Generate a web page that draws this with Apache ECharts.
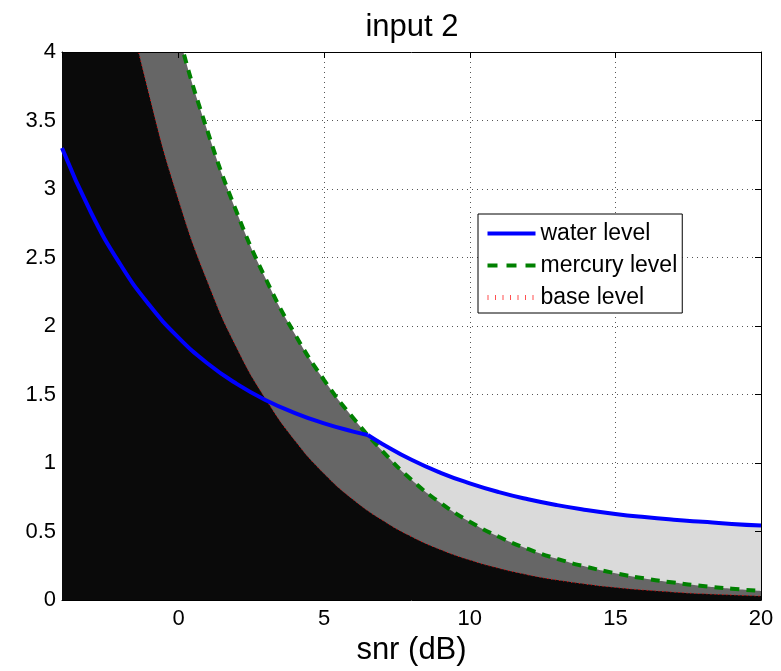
<!DOCTYPE html>
<html><head><meta charset="utf-8">
<script src="https://cdn.jsdelivr.net/npm/echarts@6/dist/echarts.min.js"></script>
<style>html,body{margin:0;padding:0;background:#fff}#c{width:781px;height:671px}</style>
</head><body><div id="c"></div>
<script>
// x values (snr in dB) shared by base and mercury levels
const snr = [-4,-3,-2,-1,0,1,2,3,4,5,6,7,8,9,10,11,12,13,14,15,16,17,18,19,20];
const baseLevel = [7.33,5.83,4.63,3.68,2.92,2.32,1.84,1.465,1.163,0.923,0.733,0.583,0.463,0.368,0.292,0.232,0.184,0.146,0.116,0.092,0.073,0.058,0.046,0.037,0.029];
const mercuryLevel = [8.8,7.28,6.03,4.99,4.13,3.42,2.83,2.343,1.94,1.606,1.329,1.088,0.878,0.709,0.572,0.462,0.373,0.301,0.243,0.196,0.158,0.128,0.103,0.083,0.067];
// water level, split at the kink where it meets mercury level
const snrWaterA = [-4,-3,-2,-1,0,1,2,3,4,5,6,6.5];
const waterA = [3.30,2.827,2.451,2.153,1.916,1.727,1.578,1.459,1.365,1.290,1.230,1.205];
const snrWaterB = [6.5,7,8,9,10,11,12,13,14,15,16,17,18,19,20];
const waterB = [1.205,1.140,1.024,0.929,0.852,0.788,0.736,0.693,0.658,0.629,0.606,0.587,0.571,0.556,0.544];
const legendNames = ['water level','mercury level','base level'];
const titleText = 'input 2';
const xName = 'snr (dB)';

const FONT = '"Liberation Sans", Arial, Helvetica, sans-serif';
const pairs = (xs, ys) => xs.map((x, i) => [x, ys[i]]);
const chart = echarts.init(document.getElementById('c'), null, {renderer: 'canvas'});

const gridLine = {show: true, lineStyle: {color: '#555', width: 1, type: [1, 4]}};
const SM = {smooth: 0.5};
const fill = (name, xs, ys, color, z) => Object.assign({
  name, type: 'line', data: pairs(xs, ys), symbol: 'none', silent: true,
  lineStyle: {width: 0}, areaStyle: {color, opacity: 1, origin: 'start'}, z
}, SM);
const line = (name, xs, ys, lineStyle, z) => Object.assign({
  name, type: 'line', data: pairs(xs, ys), symbol: 'none', showSymbol: false,
  lineStyle, itemStyle: {color: lineStyle.color}, z
}, SM);

chart.setOption({
  animation: false,
  backgroundColor: '#fff',
  title: {text: titleText, left: 407, textAlign: 'center', top: 7,
    textStyle: {fontFamily: FONT, fontSize: 31, fontWeight: 'normal', color: '#000'}},
  grid: {left: 62, right: 20, top: 52, bottom: 67, containLabel: false},
  legend: {
    orient: 'vertical', left: 478, top: 214,
    data: [
      {name: legendNames[0]},
      {name: legendNames[1], lineStyle: {type: [10, 9]}},
      {name: legendNames[2], lineStyle: {color: '#ff5050', width: 5, type: [1, 6.5]}}
    ],
    padding: [8, 5, 4, 7], itemGap: 9, itemWidth: 48, itemHeight: 21,
    backgroundColor: '#fff', borderColor: '#000', borderWidth: 1, borderRadius: 0, z: 10,
    itemStyle: {opacity: 0},
    lineStyle: {width: 'inherit', type: 'inherit'},
    textStyle: {fontFamily: FONT, fontSize: 23, color: '#000'}
  },
  xAxis: [{
    type: 'value', min: -4, max: 20, splitNumber: 5, position: 'bottom',
    name: xName, nameLocation: 'middle', nameGap: 33,
    nameTextStyle: {fontFamily: FONT, fontSize: 31, color: '#000'},
    axisLine: {show: true, onZero: false, lineStyle: {color: '#000', width: 1}},
    axisTick: {show: true, inside: true, length: 6, lineStyle: {color: '#000'}},
    axisLabel: {fontFamily: FONT, fontSize: 22, color: '#000', margin: 8, showMinLabel: false,
      formatter: v => (v === -4 ? '' : String(v))},
    splitLine: gridLine, z: 0
  }, {
    type: 'value', min: -4, max: 20, splitNumber: 5, position: 'top',
    axisLine: {show: true, onZero: false, lineStyle: {color: '#000', width: 1}},
    axisTick: {show: true, inside: true, length: 6, lineStyle: {color: '#000'}},
    axisLabel: {show: false}, splitLine: {show: false}, z: 10
  }],
  yAxis: [{
    type: 'value', min: 0, max: 4, interval: 0.5, position: 'left',
    axisLine: {show: true, onZero: false, lineStyle: {color: '#000', width: 1}},
    axisTick: {show: true, inside: true, length: 6, lineStyle: {color: '#000'}},
    axisLabel: {fontFamily: FONT, fontSize: 22, color: '#000', margin: 6},
    splitLine: gridLine, z: 0
  }, {
    type: 'value', min: 0, max: 4, interval: 0.5, position: 'right',
    axisLine: {show: true, onZero: false, lineStyle: {color: '#000', width: 1}},
    axisTick: {show: true, inside: true, length: 6, lineStyle: {color: '#000'}},
    axisLabel: {show: false}, splitLine: {show: false}, z: 10
  }],
  series: [
    fill('fill water', snrWaterB, waterB, '#dadada', 1),
    fill('fill mercury', snr, mercuryLevel, '#666666', 2),
    fill('fill base', snr, baseLevel, '#0a0a0a', 3),
    line('base level', snr, baseLevel, {color: '#ff0000', width: 1, type: [1, 3]}, 4),
    line('mercury level', snr, mercuryLevel, {color: '#008000', width: 4, type: [9, 7]}, 5),
    line('water level', snrWaterA, waterA, {color: '#0000ff', width: 4}, 6),
    line('water level', snrWaterB, waterB, {color: '#0000ff', width: 4}, 6)
  ]
});
</script></body></html>
